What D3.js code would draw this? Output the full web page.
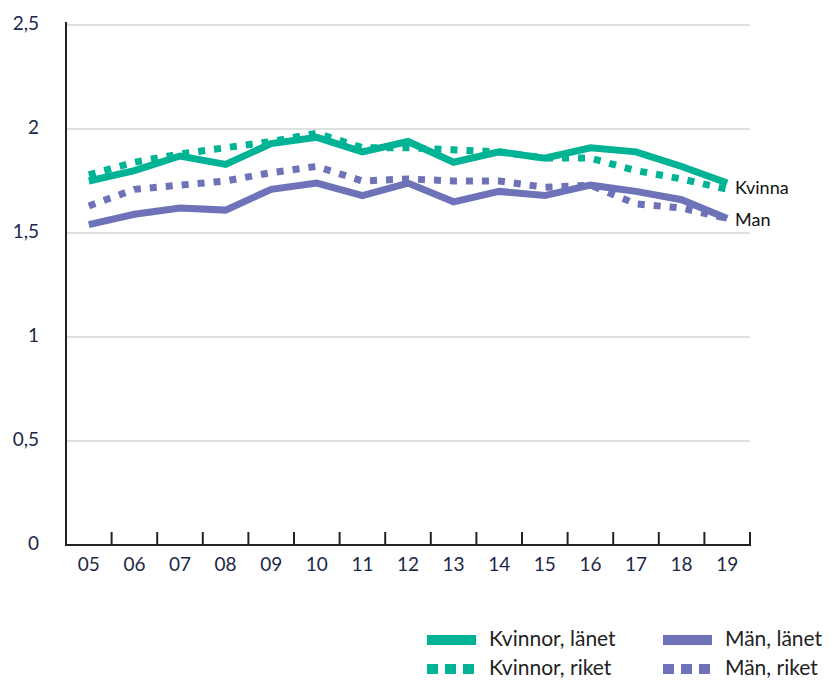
<!DOCTYPE html>
<html>
<head>
<meta charset="utf-8">
<script src="https://cdn.jsdelivr.net/npm/d3@7"></script>
<style>
  body { margin: 0; background: #fff; }
  svg { font-family: "Lato", "Noto Sans", sans-serif; }
</style>
</head>
<body>
<div id="vis"></div>
<script>
var years = ["05", "06", "07", "08", "09", "10", "11", "12", "13", "14", "15", "16", "17", "18", "19"];
var kvinnorLanet = [1.75, 1.80, 1.87, 1.83, 1.93, 1.96, 1.89, 1.94, 1.84, 1.89, 1.86, 1.91, 1.89, 1.82, 1.74];
var kvinnorRiket = [1.78, 1.84, 1.88, 1.91, 1.94, 1.98, 1.91, 1.91, 1.90, 1.89, 1.86, 1.86, 1.80, 1.76, 1.71];
var manLanet = [1.54, 1.59, 1.62, 1.61, 1.71, 1.74, 1.68, 1.74, 1.65, 1.70, 1.68, 1.73, 1.70, 1.66, 1.57];
var manRiket = [1.63, 1.71, 1.73, 1.75, 1.79, 1.82, 1.75, 1.76, 1.75, 1.75, 1.72, 1.73, 1.64, 1.62, 1.57];
var yTicks = [0, 0.5, 1, 1.5, 2, 2.5];
var endLabels = ["Kvinna", "Man"];

var green = "#00b394";
var purple = "#6e72b8";
var navy = "#1c2847";

var width = 839;
var height = 681;

var series = [
  { name: "Kvinnor, länet", values: kvinnorLanet, color: green, dashed: false },
  { name: "Män, länet", values: manLanet, color: purple, dashed: false },
  { name: "Kvinnor, riket", values: kvinnorRiket, color: green, dashed: true },
  { name: "Män, riket", values: manRiket, color: purple, dashed: true }
];

var svg = d3.select("#vis").append("svg")
  .attr("width", width)
  .attr("height", height);

var x = d3.scaleBand().domain(years).range([66, 750]);
var y = d3.scaleLinear().domain([0, 2.5]).range([545, 25]);

// grid
svg.append("g").selectAll("line")
  .data(yTicks.filter(function (d) { return d > 0; }))
  .enter().append("line")
  .attr("x1", 66).attr("x2", 750)
  .attr("y1", function (d) { return y(d); })
  .attr("y2", function (d) { return y(d); })
  .attr("stroke", "#dfe1e1")
  .attr("stroke-width", 2);

// y labels
svg.append("g").selectAll("text")
  .data(yTicks)
  .enter().append("text")
  .attr("x", 39)
  .attr("y", function (d) { return y(d) - 2; })
  .attr("dy", "0.35em")
  .attr("text-anchor", "end")
  .attr("fill", navy)
  .attr("font-size", 19)
  .text(function (d) { return d3.format(".1~f")(d).replace(".", ","); });

// x axis
var xAxis = svg.append("g");
xAxis.append("line")
  .attr("x1", 66).attr("x2", 751)
  .attr("y1", 545).attr("y2", 545)
  .attr("stroke", "#222").attr("stroke-width", 2);
xAxis.selectAll(".tick")
  .data(years)
  .enter().append("line")
  .attr("x1", function (d) { return x(d) + x.bandwidth(); })
  .attr("x2", function (d) { return x(d) + x.bandwidth(); })
  .attr("y1", 545).attr("y2", 532)
  .attr("stroke", "#222").attr("stroke-width", 2);
xAxis.selectAll("text")
  .data(years)
  .enter().append("text")
  .attr("x", function (d) { return x(d) + x.bandwidth() / 2; })
  .attr("y", 564)
  .attr("dy", "0.35em")
  .attr("text-anchor", "middle")
  .attr("fill", navy)
  .attr("font-size", 19)
  .text(function (d) { return d; });

// y axis line
svg.append("line")
  .attr("x1", 66).attr("x2", 66)
  .attr("y1", 22).attr("y2", 546)
  .attr("stroke", "#222").attr("stroke-width", 2);

var line = d3.line()
  .x(function (d, i) { return x(years[i]) + x.bandwidth() / 2; })
  .y(function (d) { return y(d); });

svg.append("g").selectAll("path")
  .data(series)
  .enter().append("path")
  .attr("d", function (d) { return line(d.values); })
  .attr("fill", "none")
  .attr("stroke", function (d) { return d.color; })
  .attr("stroke-width", 7)
  .attr("stroke-dasharray", function (d) { return d.dashed ? "7,9" : null; });

// end labels
svg.append("g").selectAll("text")
  .data(endLabels)
  .enter().append("text")
  .attr("x", 735)
  .attr("y", function (d, i) { return i === 0 ? 188 : 220; })
  .attr("dy", "0.35em")
  .attr("fill", "#111")
  .attr("font-size", 18)
  .text(function (d) { return d; });

// legend
var legend = svg.append("g").selectAll("g")
  .data([series[0], series[1], series[2], series[3]])
  .enter().append("g")
  .attr("transform", function (d, i) {
    return "translate(" + (i % 2 === 0 ? 427 : 663) + "," + (i < 2 ? 640 : 669) + ")";
  });
legend.append("line")
  .attr("x1", 0).attr("x2", 49)
  .attr("y1", 0).attr("y2", 0)
  .attr("stroke", function (d) { return d.color; })
  .attr("stroke-width", 10)
  .attr("stroke-dasharray", function (d) { return d.dashed ? "11,7" : null; });
legend.append("text")
  .attr("x", 62)
  .attr("y", 6)
  .attr("fill", "#222")
  .attr("font-size", 21)
  .text(function (d) { return d.name; });
</script>
</body>
</html>
